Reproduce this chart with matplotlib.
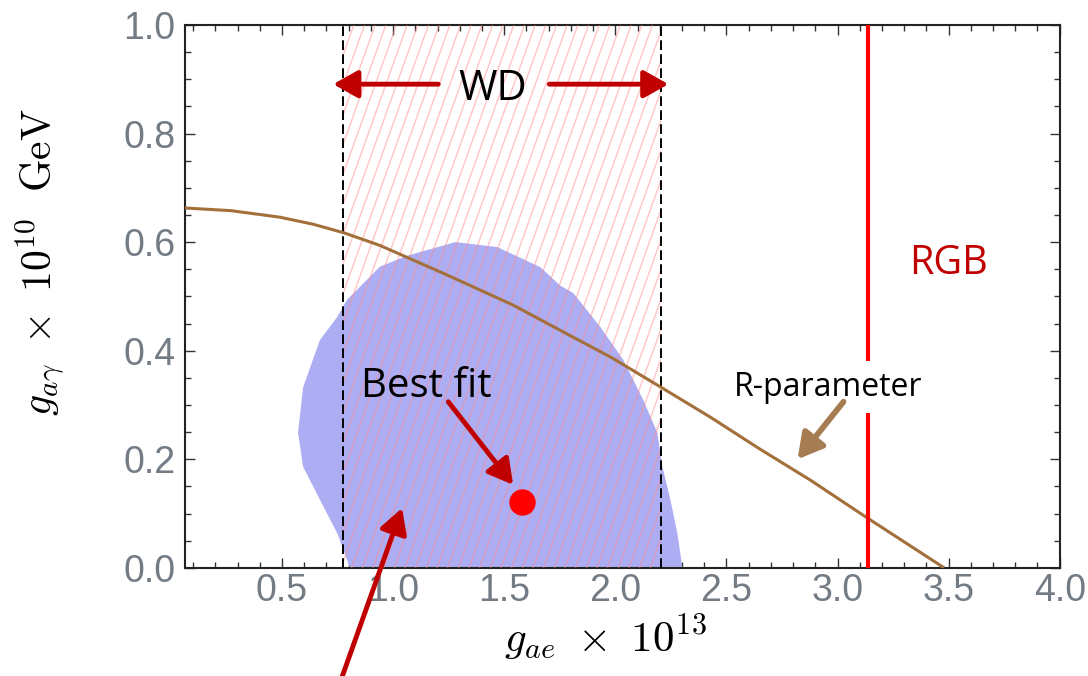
import numpy as np
import matplotlib
matplotlib.use("Agg")
import matplotlib.pyplot as plt
from matplotlib.collections import LineCollection
from matplotlib.patches import Polygon
from matplotlib.ticker import MultipleLocator, FormatStrFormatter

plt.rcParams["mathtext.fontset"] = "cm"

# white dwarf band and RGB bound (g_ae x 1e13)
wd_lo, wd_hi = 0.775, 2.205
rgb_x = 3.135

# R-parameter curve
r_x = [0.06, 0.27, 0.49, 0.64, 0.78, 0.94, 1.09, 1.24, 1.39, 1.54,
       1.75, 1.98, 2.20, 2.43, 2.65, 2.88, 3.13, 3.48]
r_y = [0.663, 0.658, 0.646, 0.633, 0.617, 0.594, 0.567, 0.540, 0.512, 0.484,
       0.438, 0.388, 0.334, 0.277, 0.219, 0.161, 0.093, 0.0]

# allowed region contour
blob_x = [0.806, 0.748, 0.671, 0.595, 0.572, 0.595, 0.671, 0.748, 0.793, 0.941,
          1.063, 1.280, 1.468, 1.662, 1.752, 1.811, 1.932, 2.036, 2.126, 2.189,
          2.212, 2.248, 2.279, 2.302]
blob_y = [0.0, 0.064, 0.125, 0.186, 0.249, 0.333, 0.420, 0.462, 0.494, 0.555,
          0.575, 0.600, 0.591, 0.554, 0.520, 0.506, 0.444, 0.383, 0.309, 0.249,
          0.186, 0.125, 0.064, 0.0]

best_fit = (1.58, 0.122)

fig = plt.figure(figsize=(10.88, 6.76), dpi=100)
ax = fig.add_axes([0.170, 0.160, 0.804, 0.803])
ax.set_xlim(0.063, 4.0)
ax.set_ylim(0.0, 1.0)

# WD band: steep red hatching, each stroke cut to the band edges
run = 0.874   # x shift per unit of y
segs = []
for c in np.arange(wd_lo - run, wd_hi, 0.048):
    y0 = max(0.0, (wd_lo - c) / run)
    y1 = min(1.0, (wd_hi - c) / run)
    if y1 > y0:
        segs.append([(c + run * y0, y0), (c + run * y1, y1)])
hatch = LineCollection(segs, colors="#ff8a8a", linewidths=1.0, alpha=0.5, zorder=3)
ax.add_collection(hatch)

blob = Polygon(list(zip(blob_x, blob_y)), closed=True, facecolor="#adadf3",
               edgecolor="none", zorder=2)
ax.add_patch(blob)

for xv in (wd_lo, wd_hi):
    ax.axvline(xv, color="black", lw=1.4, ls=(0, (5, 2.2)), zorder=4)

ax.plot(r_x, r_y, color="#a3703c", lw=2.2, zorder=5, solid_capstyle="butt")
ax.axvline(rgb_x, color="#ff0000", lw=3.0, zorder=5)
ax.plot(*best_fit, "o", color="#ff0000", ms=19, mec="none", zorder=6)

txt = dict(family=["Open Sans", "DejaVu Sans"])
ax.text(1.446, 0.862, "WD", fontsize=30, ha="center", va="baseline", zorder=8, **txt)
ax.text(1.149, 0.315, "Best fit", fontsize=29, ha="center", va="baseline", zorder=8, **txt)
ax.text(3.498, 0.541, "RGB", fontsize=28.5, ha="center", va="baseline", color="#c00000",
        zorder=8, **txt)
ax.text(2.959, 0.317, "R-parameter", fontsize=23, ha="center", va="baseline", zorder=8,
        bbox=dict(boxstyle="square,pad=0.3", fc="white", ec="none"), **txt)

dark_red = "#c00000"
arrow = dict(arrowstyle="-|>,head_length=0.75,head_width=0.42", lw=3.5, color=dark_red,
             shrinkA=0, shrinkB=0, mutation_scale=20)
ax.annotate("", xy=(0.73, 0.891), xytext=(1.203, 0.891), arrowprops=arrow, zorder=8)
ax.annotate("", xy=(2.239, 0.891), xytext=(1.703, 0.891), arrowprops=arrow, zorder=8)
ax.annotate("", xy=(1.54, 0.153), xytext=(1.248, 0.306), arrowprops=arrow, zorder=8)
ax.annotate("", xy=(1.04, 0.11), xytext=(340 / 1088, -0.01), textcoords="figure fraction",
            arrowprops=arrow, annotation_clip=False, zorder=8)
brown = dict(arrow, color="#a67c52", lw=4.2)
ax.annotate("", xy=(2.82, 0.2), xytext=(3.027, 0.306), arrowprops=brown, zorder=8)

ax.set_xticks([0.5, 1.0, 1.5, 2.0, 2.5, 3.0, 3.5, 4.0])
ax.xaxis.set_minor_locator(MultipleLocator(0.1))
ax.yaxis.set_major_locator(MultipleLocator(0.2))
ax.yaxis.set_minor_locator(MultipleLocator(0.05))
ax.xaxis.set_major_formatter(FormatStrFormatter("%.1f"))
ax.yaxis.set_major_formatter(FormatStrFormatter("%.1f"))
ax.tick_params(which="both", direction="in", top=True, right=True, width=1.0,
               color="#333333", labelcolor="#737b85", labelsize=27)
ax.tick_params(which="major", length=7)
ax.tick_params(which="minor", length=4)
ax.tick_params(axis="x", pad=4)
ax.tick_params(axis="y", pad=7)
for lab in ax.get_xticklabels() + ax.get_yticklabels():
    lab.set_family(["Liberation Sans", "DejaVu Sans"])

for sp in ax.spines.values():
    sp.set_linewidth(1.5)
    sp.set_color("#222222")

fig.text(605 / 1088, 1 - 638 / 676, r"$g_{ae}\ \times\ 10^{13}$", fontsize=31,
         ha="center", va="center")
fig.text(40 / 1088, 1 - 262 / 676, r"$g_{a\gamma}\ \times\ 10^{10}\ \ \mathrm{GeV}$",
         fontsize=30, rotation=90, ha="center", va="center")

fig.savefig("out.png", dpi=100)
